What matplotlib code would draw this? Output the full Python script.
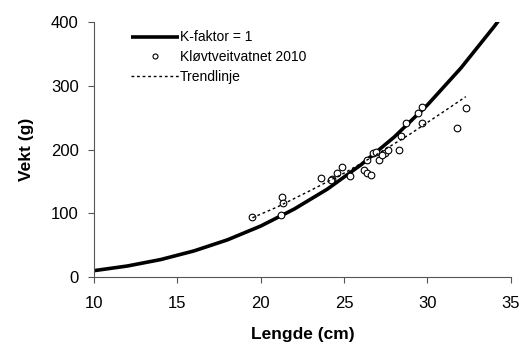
import matplotlib
matplotlib.use("Agg")
import matplotlib.pyplot as plt

plt.rcParams['font.family'] = ['Liberation Sans', 'DejaVu Sans']

# K-faktor = 1 curve (length cm, weight g)
k_len = [10, 12, 14, 16, 18, 20, 22, 24, 26, 28, 30, 32, 34, 34.6]
k_wt = [10, 17.3, 27.4, 41, 58.3, 80, 106.5, 138, 175.8, 219.5, 270, 327.7, 393, 414]

# Kløvtveitvatnet 2010 observations
obs_len = [19.5, 21.3, 21.35, 21.2, 23.6, 24.3, 24.6, 24.85, 25.35, 26.2, 26.4,
           26.6, 26.4, 26.75, 26.9, 27.1, 27.45, 27.65, 28.3, 28.4, 28.7, 29.7,
           29.45, 29.7, 31.8, 32.3, 24.2, 27.3]
obs_wt = [94, 125, 116.5, 98, 156, 154, 164, 173, 158, 168, 163,
          160, 184, 195, 196.5, 184, 195, 200, 200, 221, 241, 241,
          258, 266, 234, 265, 153, 192]

# Trend line
tr_len = [19.5, 21, 23, 25, 27, 29, 31, 32.3]
tr_wt = [93, 110, 136, 163, 193, 225, 260, 283]

fig = plt.figure(figsize=(5.25, 3.45), dpi=100)
ax = fig.add_axes([0.179, 0.197, 0.794, 0.739])

ax.plot(k_len, k_wt, color='black', lw=2.6, label='K-faktor = 1', solid_capstyle='butt')
ax.plot(obs_len, obs_wt, linestyle='none', marker='o', markersize=4.8,
        markerfacecolor='white', markeredgecolor='black', markeredgewidth=0.8,
        label='Kløvtveitvatnet 2010')
ax.plot(tr_len, tr_wt, color='black', lw=1.0, linestyle=(0, (2, 2)), label='Trendlinje')

ax.set_xlim(10, 35)
ax.set_ylim(0, 400)
ax.set_xticks([10, 15, 20, 25, 30, 35])
ax.set_yticks([0, 100, 200, 300, 400])
for s in ['top', 'right']:
    ax.spines[s].set_visible(False)
for s in ['left', 'bottom']:
    ax.spines[s].set_color('#555555')
    ax.spines[s].set_linewidth(0.8)
ax.tick_params(direction='out', length=4, width=0.8, color='#555555', labelsize=12)
ax.tick_params(axis='x', pad=10)
ax.tick_params(axis='y', pad=7)
ax.set_xlabel('Lengde (cm)', fontsize=12.5, fontweight='bold', labelpad=11)
ax.set_ylabel('Vekt (g)', fontsize=12.5, fontweight='bold', labelpad=12)

leg = ax.legend(loc='upper left', bbox_to_anchor=(0.07, 1.0), frameon=False,
                fontsize=10, handlelength=3.4, handletextpad=0.1, labelspacing=0.42,
                borderaxespad=0.2, markerscale=0.75)

fig.savefig('out.png', dpi=100)
